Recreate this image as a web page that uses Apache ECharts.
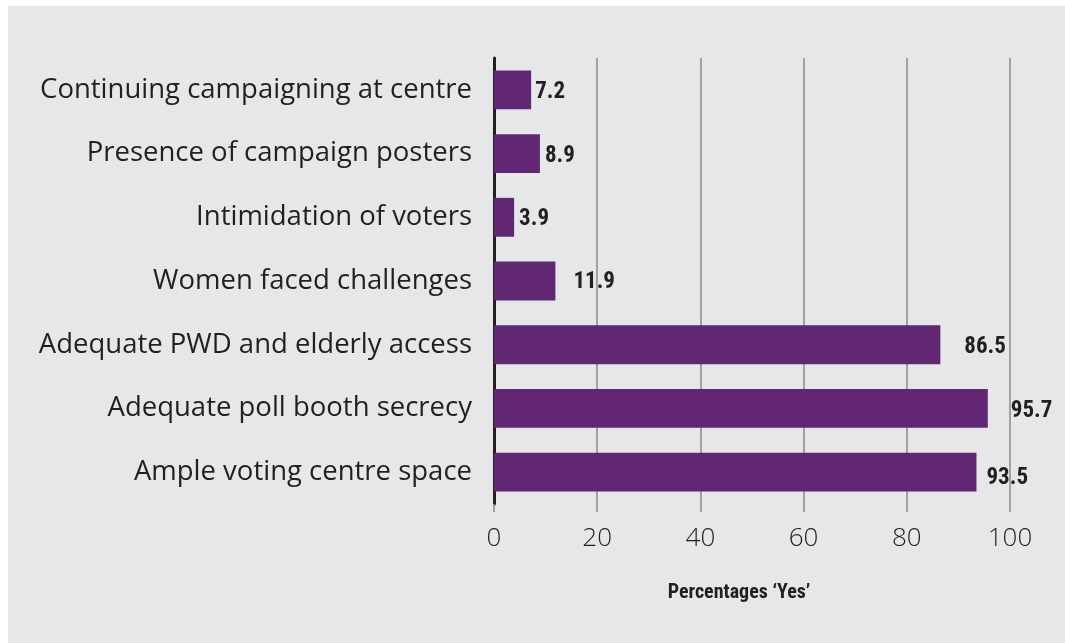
<!DOCTYPE html>
<html>
<head>
<meta charset="utf-8">
<style>
  html, body { margin: 0; padding: 0; background: #ffffff; }
  #chart { width: 1065px; height: 643px; }
</style>
<script src="https://cdn.jsdelivr.net/npm/echarts@6/dist/echarts.min.js"></script>
</head>
<body>
<div id="chart"></div>
<script>
// Polling-centre observations, share answering "Yes"
const categories = [
  'Continuing campaigning at centre',
  'Presence of campaign posters',
  'Intimidation of voters',
  'Women faced challenges',
  'Adequate PWD and elderly access',
  'Adequate poll booth secrecy',
  'Ample voting centre space'
];
const yesShare = [7.2, 8.9, 3.9, 11.9, 86.5, 95.7, 93.5];
const axisTicks = [0, 20, 40, 60, 80, 100];
const axisTitle = 'Percentages \u2018Yes\u2019';

const purple = '#612773';
const ink = '#231f20';
const panel = '#e6e7e8';
const narrowFont = '"Roboto Condensed", "Liberation Sans Narrow", "Open Sans Condensed", Roboto, sans-serif';
const bodyFont = '"Open Sans", Lato, sans-serif';

// small per-label nudges [dx, dy] for the value labels
const labelNudge = [[-1, 2], [0, 3], [0, 2], [13, 1], [19, 3], [18, 3], [5, 6]];

const chart = echarts.init(document.getElementById('chart'), null, { renderer: 'canvas' });

chart.setOption({
  animation: false,
  backgroundColor: '#ffffff',
  graphic: [{
    type: 'rect',
    z: -10,
    shape: { x: 8, y: 6, width: 1057, height: 637 },
    style: { fill: panel }
  }],
  grid: { left: 494, right: 55, top: 58, bottom: 139, containLabel: false },
  xAxis: {
    type: 'value',
    min: axisTicks[0],
    max: axisTicks[axisTicks.length - 1],
    interval: axisTicks[1] - axisTicks[0],
    name: axisTitle,
    nameLocation: 'middle',
    nameGap: 79,
    nameTextStyle: {
      fontFamily: narrowFont,
      fontWeight: 'bold',
      fontSize: 20,
      color: ink,
      padding: [0, 26, 0, 0]
    },
    axisLine: { show: false },
    axisTick: { show: true, length: 8, lineStyle: { color: '#8a8a8a', width: 1.5 } },
    splitLine: { show: true, lineStyle: { color: '#8a8a8a', width: 1.5 } },
    axisLabel: {
      margin: 22,
      fontFamily: bodyFont,
      fontWeight: 300,
      fontSize: 26,
      color: ink,
      showMinLabel: true,
      showMaxLabel: true
    }
  },
  yAxis: {
    type: 'category',
    inverse: true,
    data: categories,
    axisLine: { show: true, lineStyle: { color: ink, width: 3 } },
    axisTick: { show: false },
    splitLine: { show: false },
    axisLabel: {
      margin: 22,
      fontFamily: bodyFont,
      fontSize: 27.5,
      color: ink,
      padding: [0, 0, 4, 0]
    }
  },
  series: [{
    type: 'bar',
    barCategoryGap: '39%',
    z: 3,
    itemStyle: { color: purple },
    data: yesShare.map((v, i) => ({
      value: v,
      label: { offset: labelNudge[i] }
    })),
    label: {
      show: true,
      position: 'right',
      distance: 5,
      fontFamily: narrowFont,
      fontWeight: 'bold',
      fontSize: 23,
      color: ink,
      formatter: p => p.value.toFixed(1)
    }
  }]
});
</script>
</body>
</html>
